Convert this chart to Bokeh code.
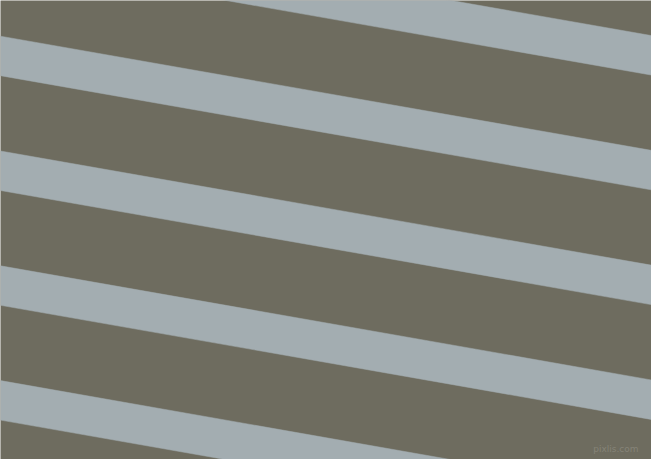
import math
from bokeh.plotting import figure
from bokeh.models import Range1d
from bokeh.core.properties import value
from bokeh.embed import file_html
from bokeh.resources import INLINE

# Pattern description (image pixel coordinates, y grows downwards)
canvas_w = 651
canvas_h = 459
stripe_angle_deg = 9.95                      # stripes fall to the right
stripe_top_left = [-79.1, 35.7, 150.5, 265.3, 380.1]   # top edge of each light stripe at x=0
stripe_height = 39.5                          # vertical thickness of a light stripe
bg_color = "#6e6c5f"
stripe_color = "#a3adb1"
watermark = "pixlis.com"

slope = math.tan(math.radians(stripe_angle_deg))

xs, ys = [], []
for t in stripe_top_left:
    x0, x1 = 0, canvas_w
    xs.append([x0, x1, x1, x0])
    ys.append([t + slope * x0, t + slope * x1,
               t + stripe_height + slope * x1, t + stripe_height + slope * x0])

p = figure(width=canvas_w, height=canvas_h,
           x_range=Range1d(0, canvas_w), y_range=Range1d(canvas_h, 0),
           output_backend="svg", toolbar_location=None, min_border=0)
p.axis.visible = False
p.grid.visible = False
p.outline_line_color = None
p.background_fill_color = bg_color
p.border_fill_color = bg_color

p.patches(xs, ys, fill_color=stripe_color, line_color=stripe_color, line_width=0.5)

p.text(x=[638], y=[448.5], text=[watermark], text_align="right", text_baseline="middle",
       text_font=value("DejaVu Sans"), text_font_size="9px", text_color="#858377")

open("out.html", "w").write(file_html(p, INLINE))
